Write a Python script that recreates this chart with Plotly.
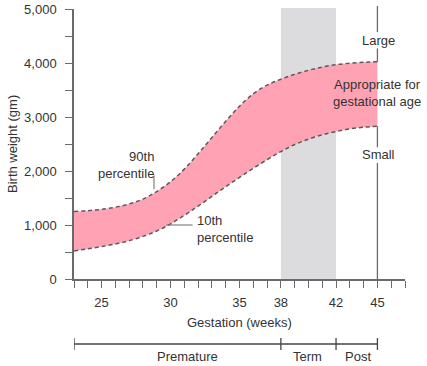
import plotly.graph_objects as go

weeks = [23, 24, 25, 26, 27, 28, 29, 30, 31, 32, 33, 34, 35, 36, 37, 38, 39, 40, 41, 42, 43, 44, 45]
p90 = [1250, 1265, 1290, 1330, 1390, 1480, 1620, 1800, 2035, 2320, 2620, 2920, 3200, 3430, 3590, 3700, 3790, 3865, 3925, 3970, 3995, 4012, 4025]
p10 = [520, 560, 600, 650, 710, 790, 890, 1020, 1180, 1350, 1530, 1710, 1880, 2050, 2210, 2360, 2490, 2590, 2670, 2730, 2780, 2810, 2830]

x_ticks = [25, 30, 35, 38, 42, 45]
y_ticks = [0, 1000, 2000, 3000, 4000, 5000]
periods = ["Premature", "Term", "Post"]
period_bounds = [23, 38, 42, 45]
period_label_x = [31.2, 39.9, 43.6]

FONT = "Liberation Sans, Arial, Helvetica, sans-serif"
TXT = "#333333"
LINE = "#5a5a5a"
AX = "#6a6a6a"
PINK = "#FFA3B4"
GRAY = "#DCDCDE"

fig = go.Figure()
fig.add_trace(go.Scatter(x=weeks, y=p10, mode="lines", line=dict(color=LINE, width=1.5, dash="4px,3px", shape="spline"),
                         showlegend=False, hoverinfo="skip"))
fig.add_trace(go.Scatter(x=weeks, y=p90, mode="lines", fill="tonexty", fillcolor=PINK,
                         line=dict(color=LINE, width=1.5, dash="4px,3px", shape="spline"),
                         showlegend=False, hoverinfo="skip"))

shapes = []
# term band
shapes.append(dict(type="rect", xref="x", yref="paper", x0=38, x1=42, y0=0, y1=1.004,
                   fillcolor=GRAY, line=dict(width=0), layer="below"))
# vertical line at 45, broken around labels
vl = dict(color=AX, width=1.3)
shapes.append(dict(type="line", xref="x", yref="paper", x0=45, x1=45, y0=1.011, y1=(279 - 32) / 270, line=vl))
shapes.append(dict(type="line", xref="x", yref="y", x0=45, x1=45, y0=4270, y1=p90[-1], line=vl))
shapes.append(dict(type="line", xref="x", yref="y", x0=45, x1=45, y0=p10[-1], y1=2440, line=vl))
shapes.append(dict(type="line", xref="x", yref="y", x0=45, x1=45, y0=2150, y1=0, line=vl))
# pointer lines
shapes.append(dict(type="line", xref="x", yref="y", x0=28.8, x1=28.8, y0=1920, y1=1660, line=dict(color=AX, width=1)))
shapes.append(dict(type="line", xref="x", yref="y", x0=29.7, x1=31.6, y0=1000, y1=1000, line=dict(color=AX, width=1)))
# bottom bracket
by = (279 - 344) / 270
shapes.append(dict(type="line", xref="x", yref="paper", x0=period_bounds[0], x1=period_bounds[-1], y0=by, y1=by,
                   line=dict(color="#444444", width=1.3)))
for b in period_bounds:
    shapes.append(dict(type="line", xref="x", yref="paper", x0=b, x1=b, y0=by - 6 / 270, y1=by + 6 / 270,
                       line=dict(color="#444444", width=1.3)))

ann = []
def A(x, y, text, xref="x", yref="y", xanchor="center", align="center", size=13, **kw):
    ann.append(dict(x=x, y=y, xref=xref, yref=yref, text=text, showarrow=False, xanchor=xanchor,
                    yanchor="middle", align=align, font=dict(family=FONT, size=size, color=TXT), **kw))

A(28.95, 2120, "90th<br>percentile", xanchor="right", align="right")
A(31.75, 920, "10th<br>percentile", xanchor="left", align="left")
A(45.1, 4420, "Large")
A(45.0, 3450, "Appropriate for<br>gestational age")
A(45.1, 2300, "Small")
A(35, (279 - 322.7) / 270, "Gestation (weeks)", yref="paper")
for m, t in zip(period_label_x, periods):
    A(m, (279 - 357) / 270, t, yref="paper")
A((12 - 74) / 331, 0.5, "Birth weight (gm)", xref="paper", yref="paper", textangle=-90)

fig.update_layout(
    width=427, height=366, margin=dict(l=74, r=22, t=9, b=87, autoexpand=False),
    paper_bgcolor="white", plot_bgcolor="white",
    shapes=shapes, annotations=ann, showlegend=False,
    font=dict(family=FONT, size=13, color=TXT),
    xaxis=dict(range=[23, 47], tickvals=x_ticks, ticks="outside", ticklen=7, tickcolor=AX, tickwidth=1.2,
               showline=True, linecolor=AX, linewidth=1.5, showgrid=False, zeroline=False, automargin=False,
               minor=dict(dtick=1, tick0=0, ticks="outside", ticklen=7, tickcolor=AX, tickwidth=1.2, showgrid=False),
               tickfont=dict(family=FONT, size=13, color=TXT), ticklabelstandoff=4),
    yaxis=dict(range=[0, 5000], tickvals=y_ticks, tickformat=",", ticks="outside", ticklen=7, tickcolor=AX, tickwidth=1.2,
               showline=True, linecolor=AX, linewidth=1.5, showgrid=False, zeroline=False, automargin=False,
               minor=dict(dtick=500, tick0=0, ticks="outside", ticklen=7, tickcolor=AX, tickwidth=1.2, showgrid=False),
               tickfont=dict(family=FONT, size=13, color=TXT), ticklabelstandoff=6),
)

fig.write_html("out.html", config={"displayModeBar": False},
               post_script="document.body.style.margin='0px';document.body.style.overflow='hidden';")
